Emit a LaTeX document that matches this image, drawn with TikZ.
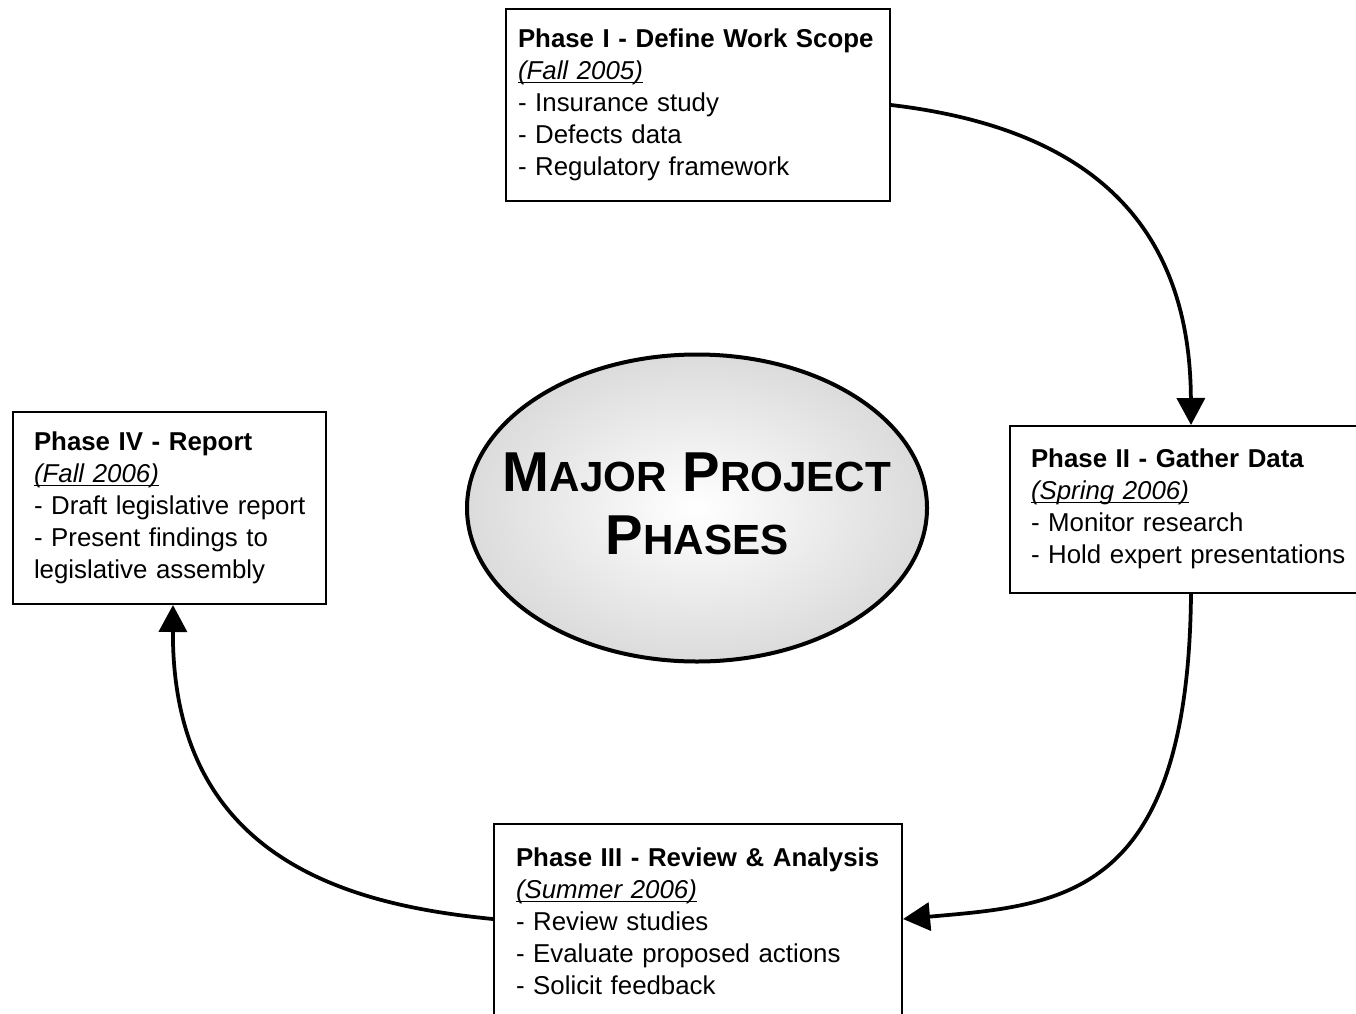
\documentclass[tikz,border=0pt]{standalone}
\usepackage{fontspec}
\setmainfont{Liberation Sans}
\usepackage{tikz}
\usetikzlibrary{shapes.geometric,arrows.meta}
\newcommand{\smcap}[2]{{\fontsize{32}{36}\selectfont #1}{\fontsize{24}{36}\selectfont #2}}
\newcommand{\phasedate}[1]{\underline{\smash{\textit{#1}}}}
\newcommand{\phaselines}[1]{\begin{tabular}{@{}l@{}}#1\end{tabular}}
\tikzset{
    phase-box/.style = {draw=black, fill=white, line width=0.4mm, rectangle, anchor=north west, align=left, inner ysep=0pt, font=\fontsize{14.7}{18.2}\selectfont},
    hub-ellipse/.style = {draw=black, line width=0.8mm, ellipse, inner sep=0pt, minimum width=92mm, minimum height=61.4mm, shading=radial, inner color=white, outer color=black!14},
    hub-title/.style = {align=center, font=\bfseries\fontsize{32}{36}\selectfont},
    cycle-arrow/.style = {line width=0.75mm, -{Triangle[length=5.4mm, width=5.6mm]}},
}

\begin{document}
\begin{tikzpicture}[x=0.2mm, y=-0.2mm]
\useasboundingbox (0,0) rectangle (1356,1013);
\node [hub-ellipse] (hub) at (697,508) {};
\node [hub-title] (hub-text) at (697,504) {\smcap{M}{AJOR} \smcap{P}{ROJECT}\\\smcap{P}{HASES}};
\node [phase-box, text width=72mm, inner xsep=2.4mm, minimum height=38.4mm] (p1) at (505,8) {\phaselines{\textbf{Phase I - Define Work Scope}\\
    \phasedate{(Fall 2005)}\\
    - Insurance study\\
    - Defects data\\
    - Regulatory framework}};
\node [phase-box, text width=64mm, inner xsep=4.2mm, minimum height=33.4mm] (p2) at (1009,425) {\phaselines{\textbf{Phase II - Gather Data}\\
    \phasedate{(Spring 2006)}\\
    - Monitor research\\
    - Hold expert presentations}};
\node [phase-box, text width=72.8mm, inner xsep=4.4mm, minimum height=40mm] (p3) at (493,823) {\phaselines{\textbf{Phase III - Review \& Analysis}\\
    \phasedate{(Summer 2006)}\\
    - Review studies\\
    - Evaluate proposed actions\\
    - Solicit feedback}};
\node [phase-box, text width=54.2mm, inner xsep=4.2mm, minimum height=38.4mm] (p4) at (12,411) {\phaselines{\textbf{Phase IV - Report}\\
    \phasedate{(Fall 2006)}\\
    - Draft legislative report\\
    - Present findings to\\
    legislative assembly}};
% arrows round the cycle
\draw [cycle-arrow] (p1.east) .. controls (1060,125) and (1190,200) .. (p2.north);
\draw [cycle-arrow] (p2.south) .. controls (1188,900) and (1060,905) .. ([yshift=1mm]p3.east);
\draw [cycle-arrow] ([yshift=1mm]p3.west) .. controls (350,905) and (172,860) .. ([xshift=0.7mm]p4.south);
\end{tikzpicture}
\end{document}
